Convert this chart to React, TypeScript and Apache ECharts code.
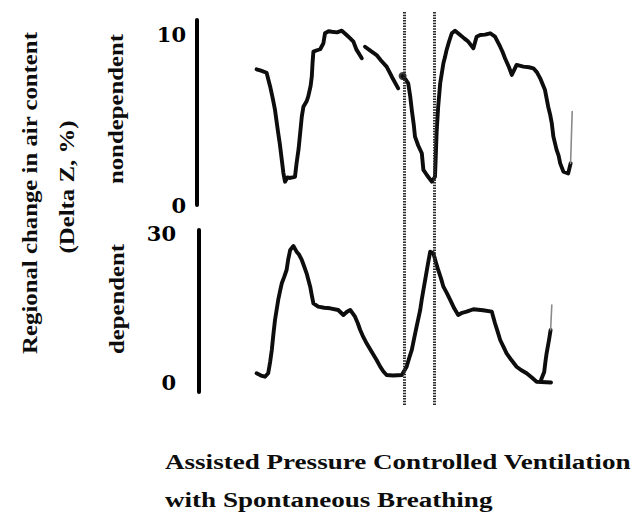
import React, { useEffect, useRef } from "react";
import * as echarts from "echarts";

// Time axis in seconds; Delta Z in percent.
const nondependentFirst: [number, number][] = [
  [1.49, 7.98], [1.6, 7.9], [1.74, 7.78], [1.83, 6.96], [1.9, 6.2], [1.95, 5.59],
  [2.03, 4.24], [2.07, 3.6], [2.12, 2.65], [2.16, 1.88], [2.2, 1.37], [2.26, 1.62],
  [2.33, 1.59], [2.45, 1.66], [2.49, 2.47], [2.54, 3.3], [2.58, 4.24], [2.62, 5.2],
  [2.66, 5.78], [2.74, 6.1], [2.78, 6.37], [2.84, 7.0], [2.87, 7.55], [2.89, 8.4],
  [2.91, 9.02], [3.0, 9.1], [3.08, 9.16], [3.16, 9.51], [3.2, 10.1], [3.29, 10.22],
  [3.37, 10.19], [3.5, 10.15], [3.62, 10.25], [3.74, 10.0], [3.83, 9.8], [3.91, 9.61],
  [3.99, 9.12], [4.05, 8.9], [4.12, 8.63],
];
const nondependentSecond: [number, number][] = [
  [4.2, 9.31], [4.35, 9.05], [4.49, 8.82], [4.6, 8.5], [4.74, 8.14], [4.88, 7.5],
  [5.03, 6.86],
];
const nondependentThird: [number, number][] = [
  [5.14, 7.59], [5.21, 7.4], [5.28, 7.16], [5.33, 6.4], [5.37, 5.59], [5.42, 4.7],
  [5.45, 4.02], [5.53, 3.5], [5.62, 3.04], [5.66, 2.06], [5.75, 1.75], [5.87, 1.37],
  [5.95, 1.66], [5.97, 2.9], [5.99, 4.24], [6.03, 5.8], [6.08, 7.16], [6.16, 8.34],
  [6.2, 8.7], [6.24, 9.12], [6.3, 9.6], [6.37, 10.1], [6.45, 10.25], [6.58, 10.0],
  [6.68, 9.8], [6.78, 9.61], [6.91, 9.22], [6.99, 9.9], [7.08, 10.0], [7.2, 10.02],
  [7.33, 10.1], [7.45, 9.9], [7.58, 9.31], [7.64, 9.0], [7.7, 8.63], [7.8, 8.1],
  [7.87, 7.65], [7.99, 8.24], [8.16, 8.14], [8.3, 8.1], [8.41, 8.04], [8.5, 7.8],
  [8.58, 7.45], [8.7, 6.76], [8.78, 5.78], [8.83, 5.3], [8.87, 4.8], [8.91, 4.02],
  [8.99, 3.24], [9.04, 2.9], [9.08, 2.45], [9.16, 1.96], [9.28, 1.86], [9.34, 2.45],
];
const nondependentTail: [number, number][] = [[9.34, 2.45], [9.36, 4.0], [9.38, 5.49]];
const nondependentDot: [number, number][] = [[5.14, 7.59]];

const dependentFirst: [number, number][] = [
  [1.49, 1.95], [1.6, 1.5], [1.7, 1.27], [1.78, 1.95], [1.83, 4.3], [1.87, 6.63],
  [1.91, 9.8], [1.95, 12.65], [2.03, 16.67], [2.08, 18.6], [2.12, 20.02], [2.18, 21.3],
  [2.24, 22.69], [2.28, 24.8], [2.33, 26.71], [2.41, 27.51], [2.49, 26.37], [2.55, 25.8],
  [2.62, 24.7], [2.68, 23.4], [2.74, 22.03], [2.83, 19.34], [2.87, 17.6], [2.91, 16.0],
  [3.03, 15.32], [3.18, 15.1], [3.33, 15.0], [3.53, 14.66], [3.66, 13.65], [3.75, 14.3],
  [3.83, 14.66], [3.95, 13.31], [4.02, 12.0], [4.08, 10.64], [4.16, 9.2], [4.24, 7.97],
  [4.37, 6.2], [4.49, 4.62], [4.58, 3.27], [4.66, 2.3], [4.74, 1.61], [4.9, 1.5],
  [5.12, 1.61], [5.24, 3.27], [5.3, 4.9], [5.37, 6.63], [5.43, 9.0], [5.49, 11.31],
  [5.58, 14.66], [5.62, 16.8], [5.66, 18.67], [5.74, 22.35], [5.78, 24.2], [5.83, 26.37],
  [5.91, 26.04], [5.97, 24.3], [6.03, 22.69], [6.1, 21.0], [6.16, 19.34], [6.25, 18.0],
  [6.33, 16.67], [6.43, 15.0], [6.53, 13.65], [6.63, 14.1], [6.74, 14.32], [6.91, 14.8],
  [7.15, 14.6], [7.37, 14.32], [7.45, 11.99], [7.52, 10.2], [7.58, 8.63], [7.66, 7.3],
  [7.74, 5.96], [7.86, 4.6], [7.99, 3.27], [8.1, 2.6], [8.24, 1.95], [8.37, 1.1],
  [8.49, 0.26], [8.85, 0.1],
];
const dependentRise: [number, number][] = [
  [8.6, 0.6], [8.68, 2.21], [8.71, 4.2], [8.74, 5.96], [8.8, 8.63], [8.84, 10.64],
];
const dependentTail: [number, number][] = [[8.84, 10.64], [8.87, 15.66]];

// Start and end of the assisted breath (dotted markers).
const markerTimes = [5.19, 5.94];

const nondependentTicks = [0, 10];
const dependentTicks = [0, 30];

const titleLines = [
  "Assisted Pressure Controlled Ventilation",
  "with Spontaneous Breathing",
];

const INK = "#0d0d0d";
const serif = '"Liberation Serif", "Times New Roman", serif';

const traceLine = (
  data: [number, number][],
  axis: number,
  width = 3.9,
  color = INK
) => ({
  type: "line",
  xAxisIndex: axis,
  yAxisIndex: axis,
  data,
  showSymbol: false,
  symbol: "none",
  smooth: false,
  silent: true,
  lineStyle: { color, width, cap: "round", join: "round" },
});

const tickLabel = (margin: number, values: number[]) => ({
  customValues: values,
  margin,
  color: "#000",
  fontFamily: '"DejaVu Serif", serif',
  fontWeight: "bold",
  fontSize: 21,
});

const rotatedLabel = (text: string, x: number, y: number) => ({
  type: "text",
  x,
  y,
  rotation: Math.PI / 2,
  scaleX: 1.24,
  silent: true,
  style: {
    text,
    font: `bold 20px ${serif}`,
    fill: INK,
    align: "center",
    verticalAlign: "middle",
    textAlign: "center",
    textVerticalAlign: "middle",
  },
});

const titleLabel = (text: string, y: number) => ({
  type: "text",
  x: 165,
  y,
  scaleX: 1.29,
  silent: true,
  style: {
    text,
    font: `bold 21px ${serif}`,
    fill: INK,
    align: "left",
    verticalAlign: "middle",
    textAlign: "left",
    textVerticalAlign: "middle",
  },
});

export default function App() {
  const ref = useRef<HTMLDivElement>(null);

  useEffect(() => {
    if (!ref.current) return;
    const chart = echarts.init(ref.current, undefined, { renderer: "svg" });

    chart.setOption({
      animation: false,
      backgroundColor: "#ffffff",
      grid: [
        { left: 197, width: 400, top: 20, height: 185, outerBoundsMode: "none" },
        { left: 199, width: 398, top: 230, height: 162, outerBoundsMode: "none" },
        { left: 197, width: 400, top: 12, height: 393, outerBoundsMode: "none" },
      ],
      xAxis: [
        { type: "value", gridIndex: 0, min: 0, max: 10, show: false },
        { type: "value", gridIndex: 1, min: 0.05, max: 10, show: false },
        { type: "value", gridIndex: 2, min: 0, max: 10, show: false },
      ],
      yAxis: [
        {
          type: "value",
          gridIndex: 0,
          min: 0,
          max: 10.88,
          axisLine: { show: true, lineStyle: { color: "#000", width: 4 } },
          axisTick: { show: false },
          splitLine: { show: false },
          axisLabel: tickLabel(11, nondependentTicks),
        },
        {
          type: "value",
          gridIndex: 1,
          min: -1.81,
          max: 30.72,
          axisLine: { show: true, lineStyle: { color: "#000", width: 4 } },
          axisTick: { show: false },
          splitLine: { show: false },
          axisLabel: tickLabel(23, dependentTicks),
        },
        { type: "value", gridIndex: 2, min: 0, max: 1, show: false },
      ],
      series: [
        traceLine(nondependentFirst, 0),
        traceLine(nondependentSecond, 0),
        traceLine(nondependentThird, 0),
        traceLine(nondependentTail, 0, 1.6, "#8a8a8a"),
        {
          type: "scatter",
          xAxisIndex: 0,
          yAxisIndex: 0,
          data: nondependentDot,
          symbol: "circle",
          symbolSize: 8,
          silent: true,
          itemStyle: { color: INK },
        },
        traceLine(dependentFirst, 1),
        traceLine(dependentRise, 1),
        traceLine(dependentTail, 1, 1.6, "#8a8a8a"),
        {
          type: "line",
          xAxisIndex: 2,
          yAxisIndex: 2,
          data: [[0, 0], [10, 0]],
          showSymbol: false,
          symbol: "none",
          silent: true,
          lineStyle: { opacity: 0 },
          markLine: {
            silent: true,
            symbol: "none",
            label: { show: false },
            lineStyle: { type: [1.5, 1.2], width: 3, color: "#2a2a2a" },
            data: markerTimes.map((t) => ({ xAxis: t })),
          },
        },
      ],
      graphic: [
        rotatedLabel("Regional change in air content", 30, 193),
        rotatedLabel("(Delta Z, %)", 67, 187),
        rotatedLabel("nondependent", 116, 109),
        rotatedLabel("dependent", 117, 299),
        titleLabel(titleLines[0], 462),
        titleLabel(titleLines[1], 500),
      ],
    });

    return () => chart.dispose();
  }, []);

  return (
    <div
      ref={ref}
      style={{ position: "fixed", left: 0, top: 0, width: 639, height: 513 }}
    />
  );
}
